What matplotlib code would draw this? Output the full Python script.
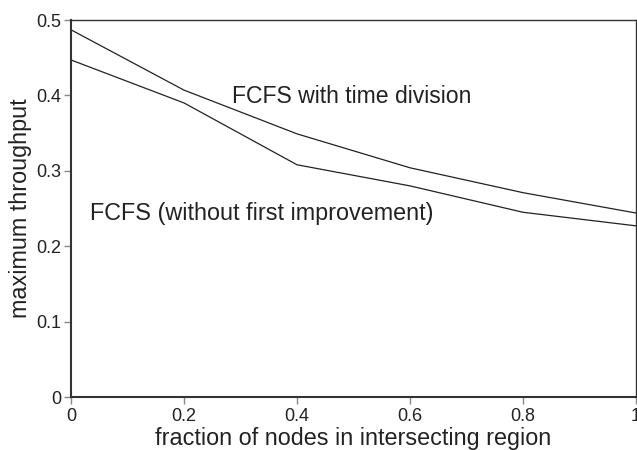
import numpy as np
import matplotlib.pyplot as plt

plt.rcParams['font.family'] = ['Liberation Sans', 'DejaVu Sans']

# fraction of nodes in intersecting region
frac = [0, 0.2, 0.4, 0.6, 0.8, 1.0]
# maximum throughput
fcfs_time_div = [0.487, 0.407, 0.349, 0.304, 0.271, 0.244]
fcfs_no_impr = [0.447, 0.390, 0.308, 0.280, 0.245, 0.227]

x_ticks = [0, 0.2, 0.4, 0.6, 0.8, 1]
x_labels = ['0', '0.2', '0.4', '0.6', '0.8', '1']
y_ticks = [0, 0.1, 0.2, 0.3, 0.4, 0.5]
y_labels = ['0', '0.1', '0.2', '0.3', '0.4', '0.5']

fig = plt.figure(figsize=(6.37, 4.5), dpi=100)
ax = fig.add_axes([71 / 637, 53 / 450, 565 / 637, 377 / 450])

ax.plot(frac, fcfs_time_div, color='#222222', lw=0.9)
ax.plot(frac, fcfs_no_impr, color='#222222', lw=0.9)

ax.text(0.285, 0.399, 'FCFS with time division', fontsize=16.6, color='#222222', va='center')
ax.text(0.033, 0.243, 'FCFS (without first improvement)', fontsize=16.8, color='#222222', va='center')

ax.set_xlim(0, 1)
ax.set_ylim(0, 0.5)
ax.set_xticks(x_ticks)
ax.set_xticklabels(x_labels)
ax.set_yticks(y_ticks)
ax.set_yticklabels(y_labels)
ax.tick_params(labelsize=13, colors='#222222', length=5, width=1, pad=2)
ax.tick_params(axis='x', color='#888888', pad=3)
ax.tick_params(axis='y', color='#888888')
for s in ax.spines.values():
    s.set_color('#333333')
    s.set_linewidth(1.5)
ax.spines['top'].set_linewidth(1.0)
ax.spines['right'].set_linewidth(1.0)

ax.set_xlabel('fraction of nodes in intersecting region', fontsize=16.8, color='#222222', labelpad=1)
ax.set_ylabel('maximum throughput', fontsize=16.8, color='#222222', labelpad=3)

fig.savefig('out.png', dpi=100)
